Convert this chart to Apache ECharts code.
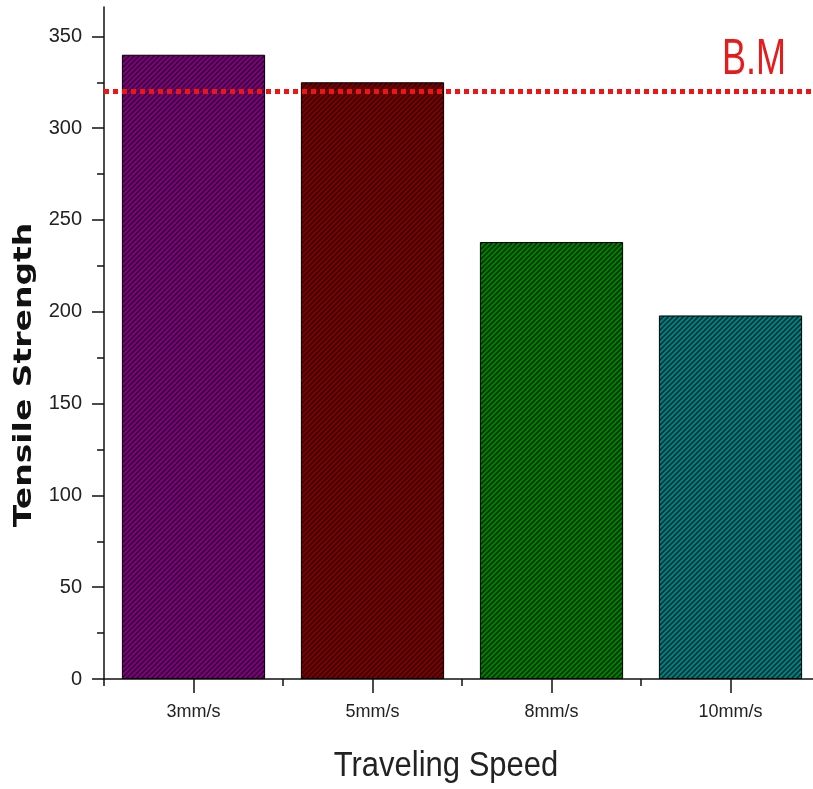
<!DOCTYPE html>
<html>
<head>
<meta charset="utf-8">
<script src="https://cdn.jsdelivr.net/npm/echarts@6/dist/echarts.min.js"></script>
<style>
  html, body { margin: 0; padding: 0; background: #fff; }
  #chart { width: 813px; height: 789px; }
</style>
</head>
<body>
<div id="chart"></div>
<script>
// Tensile strength by welding traveling speed
var speeds = ['3mm/s', '5mm/s', '8mm/s', '10mm/s'];
var strength = [340, 325, 238, 198];
var barColors = ['#800080', '#800000', '#008000', '#008080'];
var baseMetal = 320;            // base metal (B.M) reference strength
var yMajorTicks = [0, 50, 100, 150, 200, 250, 300, 350];
var yMinorTicks = [25, 75, 125, 175, 225, 275, 325];

var labelFont = '"Liberation Sans", Arial, sans-serif';

// Build a repeating tile: solid colour with dark "/" diagonal hatch lines
function hatchTile(color) {
  var s = 5;
  var c = document.createElement('canvas');
  c.width = s;
  c.height = s;
  var ctx = c.getContext('2d');
  ctx.fillStyle = color;
  ctx.fillRect(0, 0, s, s);
  ctx.strokeStyle = 'rgba(0,0,0,0.7)';
  ctx.lineWidth = 1.4;
  ctx.beginPath();
  ctx.moveTo(0, s); ctx.lineTo(s, 0);
  ctx.moveTo(-1, 1); ctx.lineTo(1, -1);
  ctx.moveTo(s - 1, s + 1); ctx.lineTo(s + 1, s - 1);
  ctx.stroke();
  return { image: c, repeat: 'repeat' };
}

var chart = echarts.init(document.getElementById('chart'), null, { renderer: 'canvas' });

chart.setOption({
  backgroundColor: '#ffffff',
  animation: false,
  grid: { left: 104, width: 716, top: 7, bottom: 110, containLabel: false, outerBoundsMode: 'none' },
  xAxis: [
    {
      type: 'category',
      data: speeds,
      axisLine: { show: true, lineStyle: { color: '#111', width: 1.5 } },
      axisTick: { show: true, alignWithLabel: true, length: 14, lineStyle: { color: '#111', width: 1.5 } },
      axisLabel: { margin: 24, fontSize: 18, color: '#222', fontFamily: labelFont }
    },
    {
      type: 'category',
      data: speeds,
      position: 'bottom',
      axisLine: { show: false },
      axisTick: { show: true, length: 7, lineStyle: { color: '#111', width: 1.5 } },
      axisLabel: { show: false }
    }
  ],
  yAxis: [
    {
      type: 'value',
      min: 0,
      max: 366,
      interval: 50,
      splitLine: { show: false },
      axisLine: { show: true, lineStyle: { color: '#111', width: 1.5 } },
      axisTick: { show: true, length: 12, customValues: yMajorTicks, lineStyle: { color: '#111', width: 1.5 } },
      axisLabel: { margin: 22, fontSize: 20, color: '#222', fontFamily: labelFont, customValues: yMajorTicks }
    },
    {
      type: 'value',
      min: 0,
      max: 366,
      position: 'left',
      splitLine: { show: false },
      axisLine: { show: false },
      axisTick: { show: true, length: 7, customValues: yMinorTicks, lineStyle: { color: '#111', width: 1.5 } },
      axisLabel: { show: false }
    }
  ],
  series: [
    {
      type: 'bar',
      xAxisIndex: 0,
      yAxisIndex: 0,
      barCategoryGap: '20%',
      data: strength.map(function (v, i) {
        return {
          value: v,
          itemStyle: {
            color: hatchTile(barColors[i]),
            borderColor: '#000',
            borderWidth: 1
          }
        };
      }),
      markLine: {
        silent: true,
        symbol: ['none', 'none'],
        label: { show: false },
        lineStyle: { color: '#f01414', width: 5, type: [5, 4], cap: 'butt' },
        data: [{ yAxis: baseMetal }],
        z: 10
      }
    }
  ],
  graphic: [
    {
      type: 'text',
      x: 24,
      y: 375,
      rotation: Math.PI / 2,
      scaleX: 1.32,
      style: {
        text: 'Tensile Strength',
        font: 'bold 25px "DejaVu Sans", sans-serif',
        fill: '#111',
        align: 'center',
        verticalAlign: 'middle'
      }
    },
    {
      type: 'text',
      x: 446,
      y: 766,
      scaleY: 1.12,
      style: {
        text: 'Traveling Speed',
        font: '31px "Liberation Sans", Arial, sans-serif',
        fill: '#222',
        align: 'center',
        verticalAlign: 'middle'
      }
    },
    {
      type: 'text',
      x: 786,
      y: 60,
      scaleY: 1.4,
      style: {
        text: 'B.M',
        font: '36px "Liberation Sans", Arial, sans-serif',
        fill: '#e51c1c',
        align: 'right',
        verticalAlign: 'middle'
      }
    }
  ]
});
</script>
</body>
</html>
